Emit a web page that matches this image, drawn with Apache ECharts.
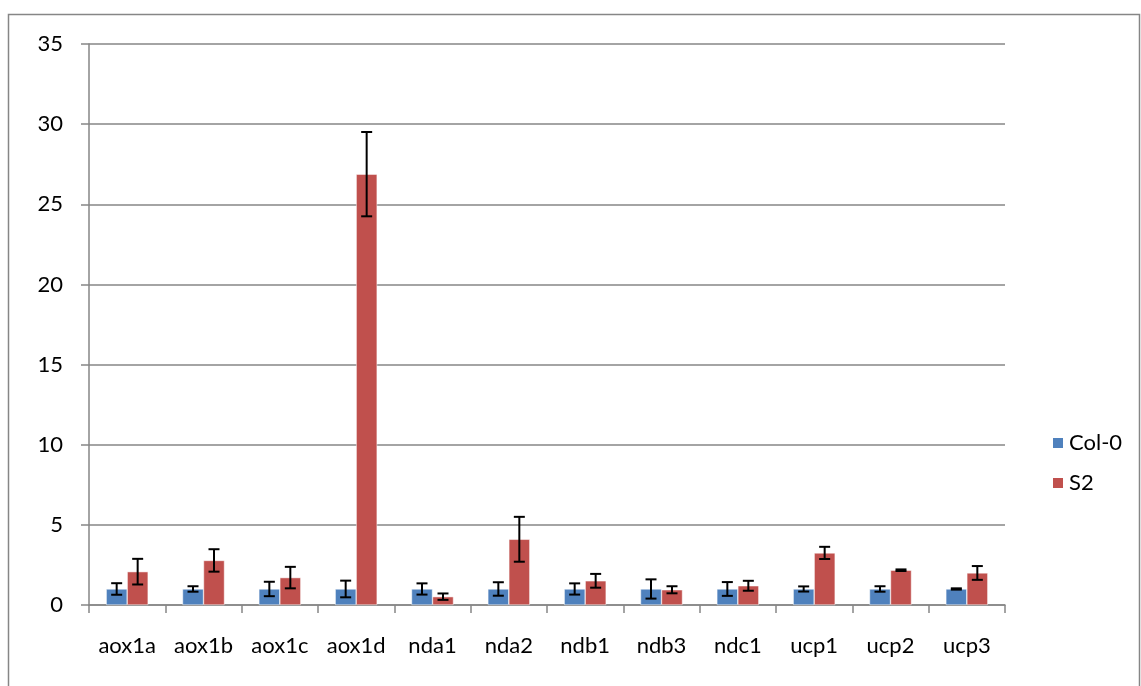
<!DOCTYPE html>
<html><head><meta charset="utf-8">
<script src="https://cdn.jsdelivr.net/npm/echarts@6/dist/echarts.min.js"></script>
<style>html,body{margin:0;padding:0;background:#fff}#c{width:1141px;height:686px}</style>
</head><body><div id="c"></div>
<script>
const categories = ['aox1a','aox1b','aox1c','aox1d','nda1','nda2','ndb1','ndb3','ndc1','ucp1','ucp2','ucp3'];
const col0 = [1,1,1,1,1,1,1,1,1,1,1,1];
const col0Err = [0.36,0.17,0.45,0.52,0.35,0.42,0.35,0.6,0.43,0.16,0.17,0.04];
const s2 = [2.08,2.78,1.71,26.88,0.52,4.1,1.51,0.95,1.2,3.25,2.17,2.0];
const s2Err = [0.8,0.7,0.67,2.63,0.2,1.4,0.43,0.22,0.31,0.38,0.05,0.43];
const yTicks = [0,5,10,15,20,25,30,35];

const FONT = 'Lato';
const chart = echarts.init(document.getElementById('c'));
const gapPct = 0.45;
function errSeries(vals, errs, idx){
  return {
    type:'custom', z:10, silent:true,
    data: vals.map((v,i)=>[i, v-errs[i], v+errs[i]]),
    encode:{x:0,y:[1,2]},
    renderItem:function(params, api){
      const i = api.value(0);
      const band = api.size([1,0])[0];
      const bw = band*(1-gapPct)/2;
      const off = (idx===0?-1:1)*bw/2;
      const lo = api.coord([i, api.value(1)]);
      const hi = api.coord([i, api.value(2)]);
      const x = lo[0]+off, cap=5.5;
      const st = {stroke:'#000', lineWidth:2};
      return {type:'group', children:[
        {type:'line', shape:{x1:x,y1:lo[1],x2:x,y2:hi[1]}, style:st},
        {type:'line', shape:{x1:x-cap,y1:lo[1],x2:x+cap,y2:lo[1]}, style:st},
        {type:'line', shape:{x1:x-cap,y1:hi[1],x2:x+cap,y2:hi[1]}, style:st}
      ]};
    }
  };
}
chart.setOption({
  animation:false,
  textStyle:{fontFamily:FONT},
  graphic:[{type:'rect', shape:{x:8.5,y:14.5,width:1131,height:680}, style:{fill:'none',stroke:'#868686',lineWidth:1.5}, z:-10}],
  grid:{left:89,right:136,top:44,bottom:81},
  legend:{
    orient:'vertical', left:1046, top:427, itemWidth:12, itemHeight:12, itemGap:18,
    icon:'rect', textStyle:{fontFamily:FONT,fontSize:22,color:'#000'},
    data:['Col-0','S2']
  },
  xAxis:{
    type:'category', data:categories,
    axisLine:{lineStyle:{color:'#868686',width:1.5}},
    axisTick:{show:true,length:8,lineStyle:{color:'#868686',width:1.5}},
    axisLabel:{color:'#000',fontSize:22,fontFamily:FONT,margin:30,interval:0,hideOverlap:false}
  },
  yAxis:{
    type:'value', min:0, max:35, interval:5,
    axisLine:{show:true,lineStyle:{color:'#868686',width:1.5}},
    axisTick:{show:true,length:8,lineStyle:{color:'#868686',width:1.5}},
    splitLine:{lineStyle:{color:'#868686',width:1.5}},
    axisLabel:{color:'#000',fontSize:22,fontFamily:FONT,margin:26,
      formatter:v=>yTicks.includes(v)?String(v):''}
  },
  series:[
    {name:'Col-0',type:'bar',data:col0,barGap:'0%',barCategoryGap:'45%',
     itemStyle:{color:'#4F81BD',borderColor:'#fff',borderWidth:0.5}},
    {name:'S2',type:'bar',data:s2,barGap:'0%',barCategoryGap:'45%',
     itemStyle:{color:'#C0504D',borderColor:'#fff',borderWidth:0.5}},
    errSeries(col0,col0Err,0),
    errSeries(s2,s2Err,1)
  ]
});
</script></body></html>
